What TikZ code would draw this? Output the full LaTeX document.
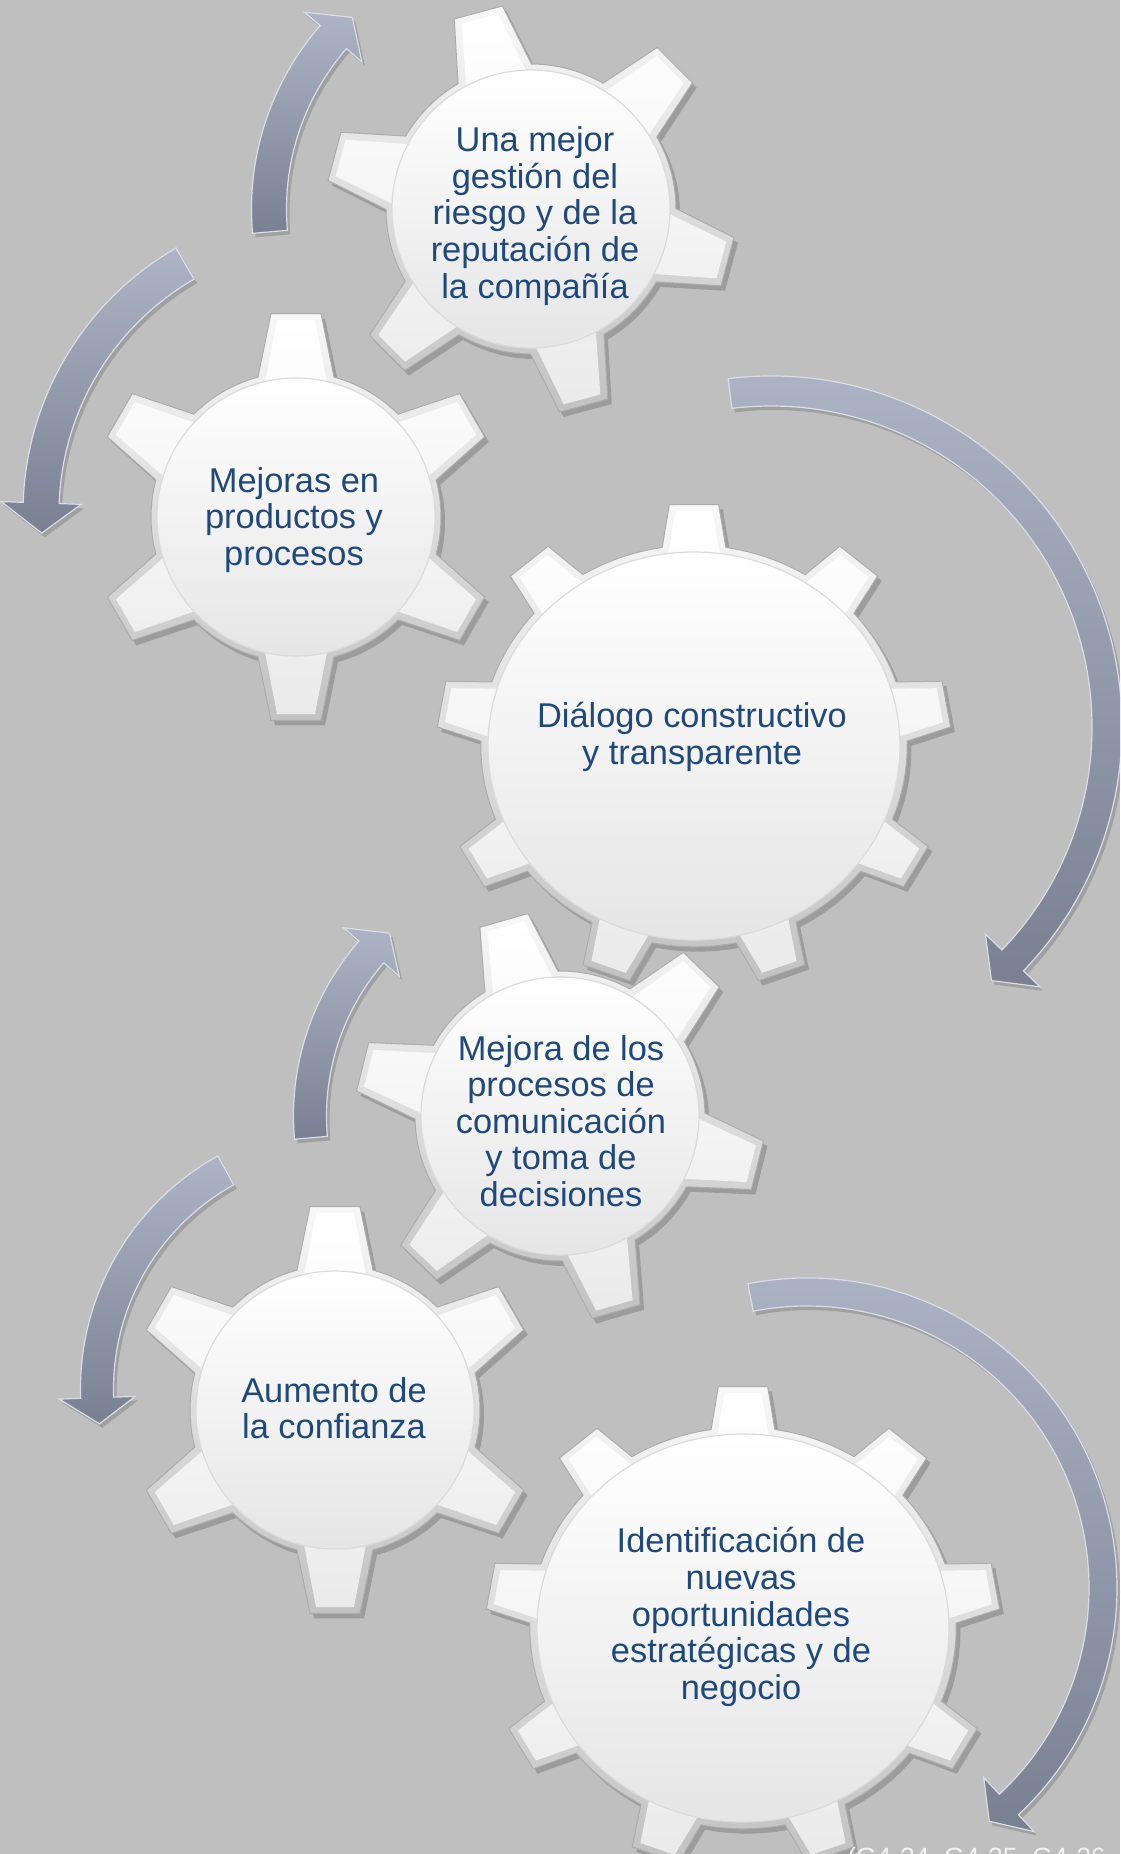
\documentclass[tikz,border=0pt]{standalone}
\usepackage{fontspec}
\newfontfamily\arialfont{Liberation Sans}
\usepackage{xcolor}
\usepackage{tikz}

\definecolor{bggray}{RGB}{191,191,191}
\definecolor{textblue}{RGB}{31,73,125}
\definecolor{arrowlight}{RGB}{172,180,198}
\definecolor{arrowdark}{RGB}{120,128,146}
\definecolor{footgray}{RGB}{242,242,242}

\tikzset{
    cogshadow/.style={fill=black, opacity=0.18, shift={(4,-5)}},
    cogrim/.style={draw=gray!65, line width=0.5pt, top color=gray!6, bottom color=gray!48},
    cogface/.style={top color=white, bottom color=gray!16},
    cogdome/.style={top color=white, bottom color=gray!20, draw=gray!28, line width=0.6pt},
    arrowbody/.style={top color=arrowlight, bottom color=arrowdark, draw=white!55!arrowlight, line width=0.6pt},
    arrowshadow/.style={fill=black, opacity=0.16, shift={(3,-4)}},
    geartext/.style={align=center, text=textblue, inner sep=0pt, font=\arialfont\fontsize{17.2}{18.3}\selectfont},
    sourcetext/.style={anchor=base west, inner sep=0pt, text=footgray, font=\arialfont\fontsize{13.2}{15}\selectfont}
}

% gear outline: teeth, rotation, body radius, tip radius, base half angle, tip half angle
\newcommand{\cogoutline}[6]{({#2-#5}:#3) \foreach \k in {1,...,#1}{
    -- ({#2+360*(\k-1)/#1-#5}:#3) -- ({#2+360*(\k-1)/#1-#6}:#4)
    -- ({#2+360*(\k-1)/#1+#6}:#4) -- ({#2+360*(\k-1)/#1+#5}:#3)
    arc[start angle={#2+360*(\k-1)/#1+#5}, end angle={#2+360*\k/#1-#5}, radius=#3]} -- cycle}

% arrow outline: radius, start angle, end angle, tip angle, band half width, head half width
\newcommand{\arrowoutline}[6]{({#2}:{#1+#5}) arc[start angle=#2, end angle=#3, radius={#1+#5}]
    -- ({#3}:{#1+#6}) -- ({#4}:#1) -- ({#3}:{#1-#6}) -- ({#3}:{#1-#5})
    arc[start angle=#3, end angle=#2, radius={#1-#5}] -- cycle}

% six teeth gear: centre, rotation
\newcommand{\smallcog}[2]{\begin{scope}[shift={#1}]
    \fill[cogshadow] \cogoutline{6}{#2}{145}{205}{15.2}{7};
    \path[cogrim] \cogoutline{6}{#2}{145}{205}{15.2}{7};
    \path[cogface] \cogoutline{6}{#2}{138}{198}{13}{5.5};
    \path[cogdome] (0,0) circle[radius=139];
\end{scope}}

% nine teeth gear: centre
\newcommand{\bigcog}[1]{\begin{scope}[shift={#1}, xscale=1.03, yscale=0.97]
    \fill[cogshadow] \cogoutline{9}{90}{207}{250}{8.6}{5.5};
    \path[cogrim] \cogoutline{9}{90}{207}{250}{8.6}{5.5};
    \path[cogface] \cogoutline{9}{90}{200}{243}{7.2}{4.2};
    \path[cogdome] (0,0) circle[radius=200];
\end{scope}}

\begin{document}
\begin{tikzpicture}[x=0.5pt, y=0.5pt]
    \useasboundingbox (0,0) rectangle (1120,-1854);
    \fill[bggray] (0,0) rectangle (1120,-1854);
    \clip (0,0) rectangle (1120,-1854);

    % Centres
    \coordinate (g1) at (531,-209);
    \coordinate (g2) at (296,-517);
    \coordinate (g3) at (694,-746);
    \coordinate (g4) at (560,-1116);
    \coordinate (g5) at (335,-1410);
    \coordinate (g6) at (743,-1628);
    \coordinate (b) at (329,-513);
    \coordinate (c) at (771,-727);
    \coordinate (e) at (347,-1389);
    \coordinate (f) at (807,-1588);

    % Arrows
    \foreach \ctr/\rad/\sa/\ea/\ta/\bw/\hw in {g1/262/185/139/133/17.5/38, b/288/120/178/184/18/40,
        c/336/97/-44/-49/15/38, g4/250/185/139/133/16.5/37, e/250/119/182/188/16.5/38, f/296/101/-47/-52/14/37}{
        \begin{scope}[shift={(\ctr)}]
            \fill[arrowshadow] \arrowoutline{\rad}{\sa}{\ea}{\ta}{\bw}{\hw};
            \path[arrowbody] \arrowoutline{\rad}{\sa}{\ea}{\ta}{\bw}{\hw};
        \end{scope}
    }

    % Gears
    \bigcog{(g3)}
    \smallcog{(g2)}{90}
    \smallcog{(g1)}{105}
    \bigcog{(g6)}
    \smallcog{(g5)}{90}
    \smallcog{(g4)}{106}

    % Nodes
    \node[geartext] (riesgo) at (535,-216) {Una mejor\\gestión del\\riesgo y de la\\reputación de\\la compañía};
    \node[geartext] (mejoras) at (294,-520) {Mejoras en\\productos y\\procesos};
    \node[geartext] (dialogo) at (692,-737) {Diálogo constructivo\\y transparente};
    \node[geartext] (comunicacion) at (561,-1121) {Mejora de los\\procesos de\\comunicación\\y toma de\\decisiones};
    \node[geartext] (confianza) at (334,-1408) {Aumento de\\la confianza};
    \node[geartext] (oportunidades) at (741,-1617) {Identificación de\\nuevas\\oportunidades\\estratégicas y de\\negocio};
    \node[sourcetext] (fuente) at (847,-1866) {(G4-24, G4-25, G4-26};
\end{tikzpicture}
\end{document}
